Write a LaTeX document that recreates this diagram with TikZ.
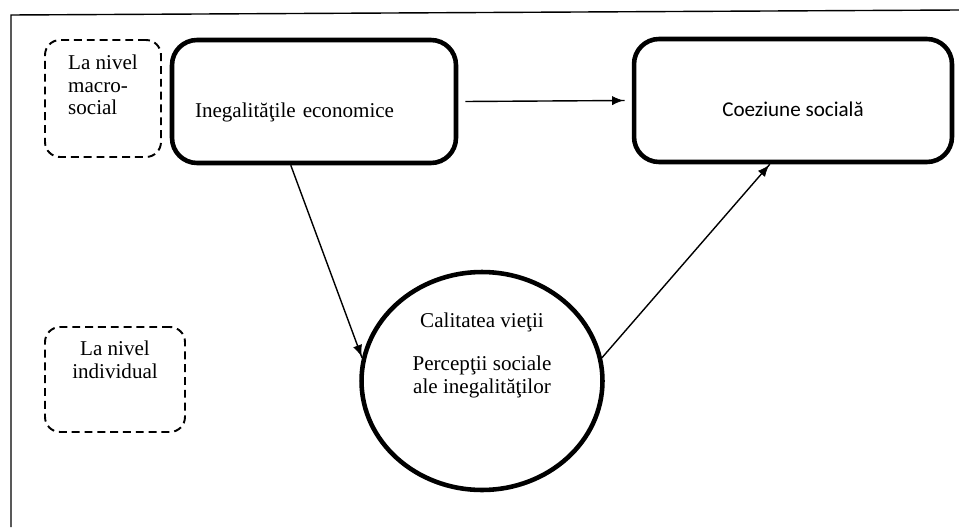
\documentclass[tikz,border=0pt]{standalone}
\usepackage{fontspec}
\setmainfont{Liberation Serif}
\newfontfamily\calibrifont{Carlito}
\usetikzlibrary{positioning, shapes.geometric, arrows.meta, decorations.markings}
\tikzstyle{Arrow} = [
line width=0.8pt,
decoration={
markings,
mark=at position 0.9999 with {
\arrow{Latex[length=2.6mm,width=2.1mm]}}},
preaction = {decorate}]
\tikzstyle{Level} = [draw, line width=1.1pt, dash pattern=on 4.5pt off 2.8pt,
rounded corners=0.3cm, inner sep=2pt]
\tikzstyle{Box} = [draw, line width=2.6pt, rounded corners=0.5cm,
minimum height=2.46cm, text height=0.8cm, text depth=0.14cm]
\tikzstyle{Frame} = [line width=0.8pt]

\begin{document}
\begin{tikzpicture}[x=0.02cm, y=-0.02cm, font=\fontsize{12}{13}\selectfont]
    \useasboundingbox (0,0) rectangle (959,527);
    \draw[Frame] (11,527) -- (11,15) -- (959,10);

    \node [Level, minimum width=2.32cm, minimum height=2.34cm, align=left,
        text height=1.3cm, text depth=0.64cm] (macro) at (103,98.5)
        {La nivel\\macro-\\social};
    \node [Level, minimum width=2.8cm, minimum height=2.1cm, align=center,
        text height=0.9cm, text depth=0.96cm] (indiv) at (115,379.5)
        {La nivel\\individual};

    \node [Box, align=left, text width=4.76cm, inner xsep=0.46cm] (ineg)
        at (314,101.5) {Inegalităţile economice};
    \node [Box, minimum width=6.36cm, font=\calibrifont\fontsize{12}{14}\selectfont]
        (coez) at (793,100.5) {Coeziune socială};
    \node [ellipse, draw, line width=2.6pt, inner sep=0pt, minimum width=4.82cm,
        minimum height=4.36cm, align=center, text height=1.6cm,
        text depth=1.12cm] (oval) at (482,381)
        {Calitatea vieţii\\[11pt]Percepţii sociale\\ale inegalităţilor};

    \draw[Arrow] ([xshift=4pt]ineg.east) -- ([xshift=-4pt]coez.west);
    \draw[Arrow] (ineg.250) -- (oval.169);
    \draw[Arrow] (oval.11) -- (coez.250);
\end{tikzpicture}
\end{document}
